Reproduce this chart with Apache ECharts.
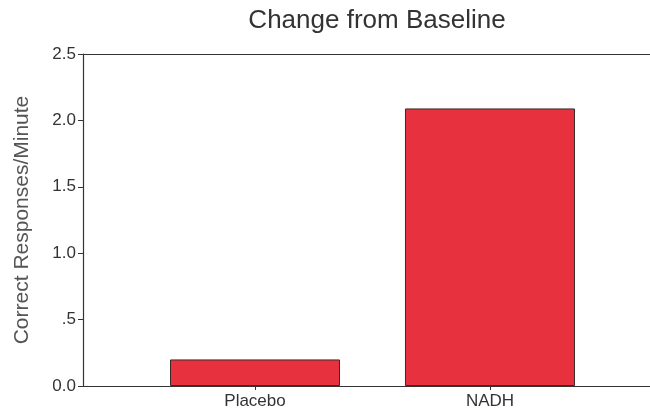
<!DOCTYPE html>
<html>
<head>
<meta charset="utf-8">
<script src="https://cdn.jsdelivr.net/npm/echarts@6/dist/echarts.min.js"></script>
<style>
  html, body { margin: 0; padding: 0; background: #fff; }
  #chart { width: 650px; height: 417px; }
</style>
</head>
<body>
<div id="chart"></div>
<script>
// 数据
const categories = ['Placebo', 'NADH'];
const changeValues = [0.2, 2.09];
const yTickLabels = ['0.0', '.5', '1.0', '1.5', '2.0', '2.5'];

const FONT = '"Liberation Sans", Arial, sans-serif';
const TEXT = '#333';
const LINE = '#333';

// 柱子按类别序号放在数值轴上
const barData = categories.map((c, i) => [i, changeValues[i]]);

const chart = echarts.init(document.getElementById('chart'));
chart.setOption({
  animation: false,
  title: {
    text: 'Change from Baseline',
    left: 372,
    textAlign: 'center',
    top: 3,
    textStyle: { fontFamily: FONT, fontSize: 26, fontWeight: 'normal', color: TEXT }
  },
  grid: { left: 83, right: 0, top: 54, bottom: 31, containLabel: false, outerBoundsMode: 'none' },
  xAxis: [
    {
      type: 'value',
      min: -0.732,
      max: 1.681,
      splitLine: { show: false },
      axisLine: { show: true, onZero: false, lineStyle: { color: LINE, width: 1.2 } },
      axisTick: { show: true, customValues: [0, 1], length: 4, lineStyle: { color: LINE } },
      axisLabel: {
        customValues: [0, 1],
        formatter: v => categories[Math.round(v)] || '',
        fontFamily: FONT, fontSize: 17, color: TEXT, margin: 7
      }
    },
    {
      type: 'value',
      position: 'top',
      min: -0.732,
      max: 1.681,
      splitLine: { show: false },
      axisLine: { show: true, onZero: false, lineStyle: { color: LINE, width: 1.2 } },
      axisTick: { show: false },
      axisLabel: { show: false }
    }
  ],
  yAxis: {
    type: 'value',
    min: 0,
    max: 2.5,
    interval: 0.5,
    name: 'Correct Responses/Minute',
    nameLocation: 'middle',
    nameGap: 50,
    nameTextStyle: { fontFamily: FONT, fontSize: 21, color: '#555' },
    splitLine: { show: false },
    axisLine: { show: true, onZero: false, lineStyle: { color: LINE, width: 1.2 } },
    axisTick: { show: true, length: 5, lineStyle: { color: LINE } },
    axisLabel: {
      formatter: v => yTickLabels[Math.round(v / 0.5)],
      fontFamily: FONT, fontSize: 17, color: TEXT, margin: 7
    }
  },
  series: [{
    type: 'bar',
    xAxisIndex: 0,
    data: barData,
    barWidth: 170,
    itemStyle: { color: '#e8313f', borderColor: '#3a2a2a', borderWidth: 1 }
  }]
});
</script>
</body>
</html>
